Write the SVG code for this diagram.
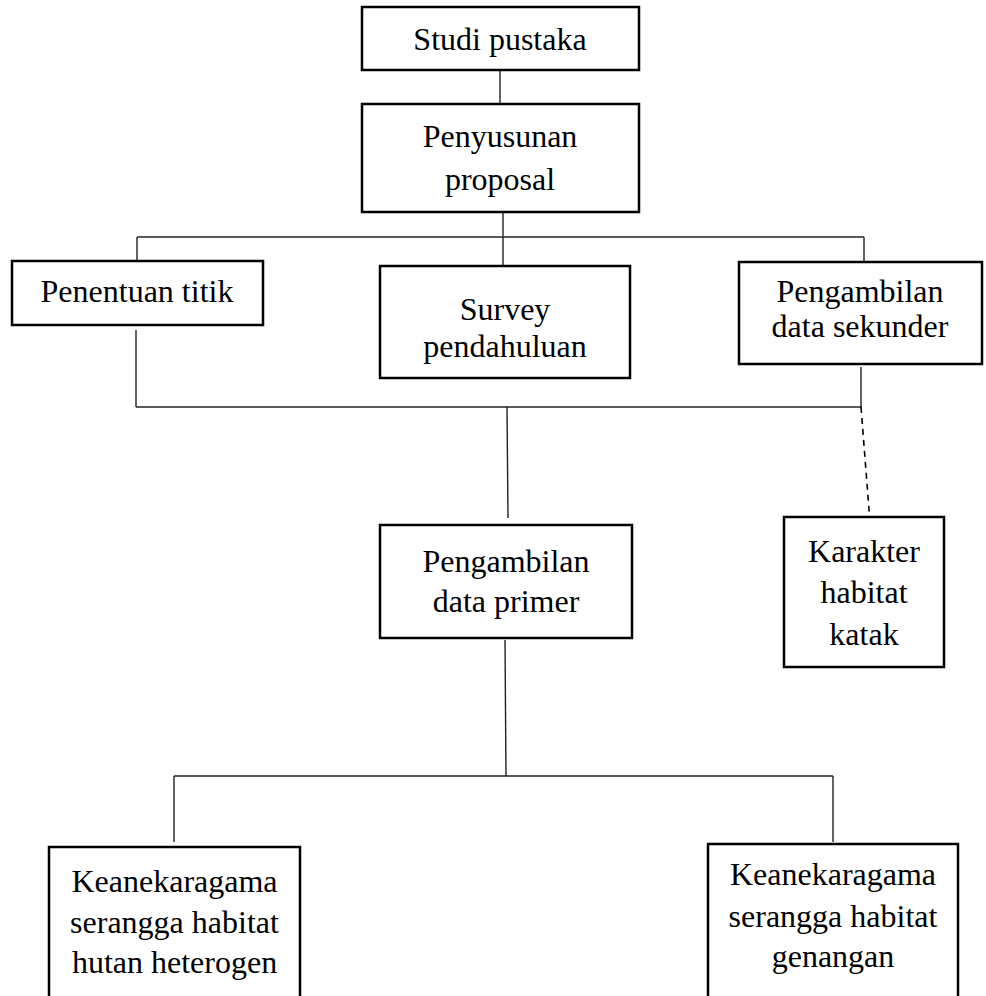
<svg xmlns="http://www.w3.org/2000/svg" width="986" height="996" viewBox="0 0 986 996">
<style>
.box{fill:#fff;stroke:#000;stroke-width:2.5}
.t{font-family:"Liberation Serif","Times New Roman",serif;font-size:32px;fill:#000;text-anchor:middle}
.c{stroke:#222;stroke-width:1.4;fill:none}
.d{stroke:#000;stroke-width:1.6;stroke-dasharray:6,5;fill:none}
</style>
<rect width="986" height="996" fill="#fff"/>
<g id="connectors">
<line class="c" x1="500" y1="70" x2="500" y2="104"/>
<line class="c" x1="503" y1="213" x2="503" y2="266"/>
<line class="c" x1="137" y1="237" x2="864" y2="237"/>
<line class="c" x1="137" y1="237" x2="137" y2="261"/>
<line class="c" x1="864" y1="237" x2="864" y2="262"/>
<line class="c" x1="136" y1="330" x2="136" y2="407"/>
<line class="c" x1="861" y1="367" x2="861" y2="407"/>
<line class="c" x1="136" y1="407" x2="862" y2="407"/>
<line class="c" x1="507" y1="407" x2="508" y2="518"/>
<line class="d" x1="861" y1="407" x2="870" y2="522"/>
<line class="c" x1="505" y1="640" x2="506" y2="776"/>
<line class="c" x1="174" y1="776" x2="833" y2="776"/>
<line class="c" x1="174" y1="776" x2="174" y2="842"/>
<line class="c" x1="833" y1="776" x2="833" y2="842"/>
</g>
<g id="studi-pustaka">
<rect class="box" x="362" y="7" width="277" height="63"/>
<text class="t" x="500" y="50">Studi pustaka</text>
</g>
<g id="penyusunan-proposal">
<rect class="box" x="362" y="104" width="277" height="108"/>
<text class="t" x="500" y="147">Penyusunan</text>
<text class="t" x="500" y="190">proposal</text>
</g>
<g id="penentuan-titik">
<rect class="box" x="12" y="261" width="251" height="64"/>
<text class="t" x="137" y="302">Penentuan titik</text>
</g>
<g id="survey-pendahuluan">
<rect class="box" x="380" y="266" width="250" height="112"/>
<text class="t" x="505" y="320">Survey</text>
<text class="t" x="505" y="357">pendahuluan</text>
</g>
<g id="pengambilan-data-sekunder">
<rect class="box" x="739" y="262" width="243" height="102"/>
<text class="t" x="860" y="302">Pengambilan</text>
<text class="t" x="860" y="337">data sekunder</text>
</g>
<g id="pengambilan-data-primer">
<rect class="box" x="380" y="525" width="252" height="113"/>
<text class="t" x="506" y="572">Pengambilan</text>
<text class="t" x="506" y="612">data primer</text>
</g>
<g id="karakter-habitat-katak">
<rect class="box" x="784" y="517" width="160" height="150"/>
<text class="t" x="864" y="562">Karakter</text>
<text class="t" x="864" y="603">habitat</text>
<text class="t" x="864" y="645">katak</text>
</g>
<g id="keanekaragama-hutan">
<rect class="box" x="49" y="847" width="251" height="160"/>
<text class="t" x="174.5" y="892">Keanekaragama</text>
<text class="t" x="174.5" y="933">serangga habitat</text>
<text class="t" x="174.5" y="973">hutan heterogen</text>
</g>
<g id="keanekaragama-genangan">
<rect class="box" x="708" y="844" width="250" height="160"/>
<text class="t" x="833" y="885">Keanekaragama</text>
<text class="t" x="833" y="927">serangga habitat</text>
<text class="t" x="833" y="967">genangan</text>
</g>
</svg>
